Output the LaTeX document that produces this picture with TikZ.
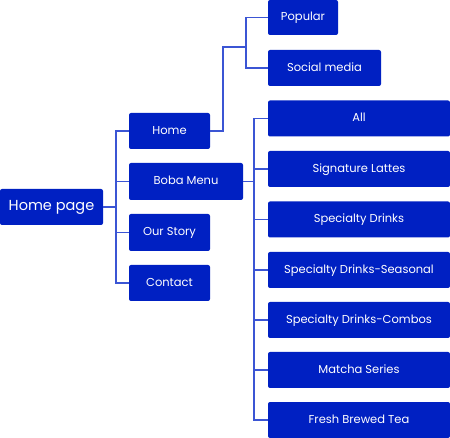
\documentclass[tikz,border=0pt]{standalone}
\usepackage{fontspec}
\setmainfont{Poppins}
\definecolor{boxblue}{HTML}{0020C2}
\definecolor{lineblue}{HTML}{3B55D4}
\tikzset{
  x=1pt, y=-1pt,
  box/.style={fill=boxblue, draw=none, rounded corners=2pt, text=white, inner sep=0pt,
    text height=0.7em, text depth=0pt, font=\fontsize{11.5}{13}\selectfont},
  wire/.style={draw=lineblue, line width=1.6pt}
}
\begin{document}
\begin{tikzpicture}
\useasboundingbox (0,0) rectangle (450,438);
% level 0
\node[box, minimum width=103pt, minimum height=36pt, font=\fontsize{14.5}{17}\selectfont] (hp) at (51.5,207) {Home page};
% level 1
\node[box, minimum width=81pt, minimum height=36pt] (home) at (169.5,131) {Home};
\node[box, minimum width=114pt, minimum height=37pt] (boba) at (186,181.5) {Boba Menu};
\node[box, minimum width=81pt, minimum height=37pt] (story) at (169.5,232.5) {Our Story};
\node[box, minimum width=81pt, minimum height=36pt] (contact) at (169.5,283) {Contact};
% level 2 under Home
\node[box, minimum width=70pt, minimum height=35pt] (popular) at (303,17.5) {Popular};
\node[box, minimum width=113pt, minimum height=36pt] (social) at (324.5,68) {Social media};
% level 2 under Boba Menu
\node[box, minimum width=182pt, minimum height=36pt] (m1) at (359,118.5) {All};
\node[box, minimum width=182pt, minimum height=36pt] (m2) at (359,169) {Signature Lattes};
\node[box, minimum width=182pt, minimum height=36pt] (m3) at (359,219.5) {Specialty Drinks};
\node[box, minimum width=182pt, minimum height=36pt] (m4) at (359,270) {Specialty Drinks-Seasonal};
\node[box, minimum width=182pt, minimum height=36pt] (m5) at (359,320) {Specialty Drinks-Combos};
\node[box, minimum width=182pt, minimum height=36pt] (m6) at (359,370) {Matcha Series};
\node[box, minimum width=182pt, minimum height=36pt] (m7) at (359,420) {Fresh Brewed Tea};
% junctions
\coordinate (t0) at (116,207);
\coordinate (t1) at (223,131);
\coordinate (t1b) at (223,47);
\coordinate (t1c) at (246,47);
\coordinate (t2) at (254,181.5);
% connectors
\draw[wire] (hp.east) -- (t0);
\foreach \c in {home,boba,story,contact}{
  \draw[wire] (t0) |- (\c.west);
}
\draw[wire] (home.east) -- (t1) -- (t1b) -- (t1c);
\draw[wire] (t1c) |- (popular.west);
\draw[wire] (t1c) |- (social.west);
\draw[wire] (boba.east) -- (t2);
\foreach \c in {m1,m2,m3,m4,m5,m6,m7}{
  \draw[wire] (t2) |- (\c.west);
}
\end{tikzpicture}
\end{document}
